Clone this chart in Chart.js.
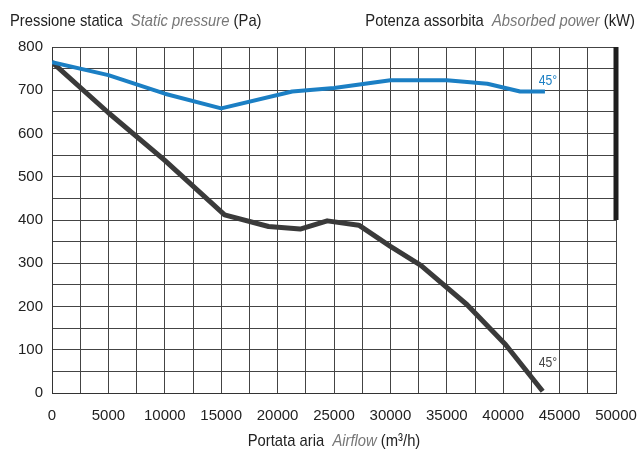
<!DOCTYPE html>
<html>
<head>
<meta charset="utf-8">
<script src="https://cdn.jsdelivr.net/npm/chart.js@4.4.1/dist/chart.umd.min.js"></script>
<style>
  html, body { margin: 0; padding: 0; background: #fff; }
  #wrap { width: 637px; height: 450px; }
</style>
</head>
<body>
<div id="wrap"><canvas id="chart" width="637" height="450"></canvas></div>
<script>
// Airflow (m3/h) vs static pressure (Pa)
const pressureX = [0, 5000, 10000, 15300, 19200, 22000, 24400, 27200, 30000, 32700, 36800, 40200, 43500];
const pressureY = [765, 648, 538, 412, 385, 379, 398, 388, 339, 295, 204, 112, 4];

// absorbed power curve, drawn on the same grid
const powerX = [0, 5000, 10000, 15000, 21300, 25000, 30000, 35000, 38600, 41500, 43700];
const powerY = [765, 735, 692, 658, 697, 705, 723, 723, 715, 697, 697];

// thick black bar on the right border (power axis)
const barX = [50000, 50000];
const barY = [400, 800];

const curveLabels = [
  { text: "45°", x: 43150, y: 721, color: "#1b7fc4" },
  { text: "45°", x: 43150, y: 70, color: "#444" },
];

const FONT = '"Liberation Sans", Arial, sans-serif';
const BLUE = "#1b7fc4";
const DARK = "#3a3a3a";
const SQUEEZE = 0.87; // reference type is a narrow face

function pts(xs, ys) {
  return xs.map((x, i) => ({ x: x, y: ys[i] }));
}

// draw a run of text pieces with mixed styles, horizontally condensed
function drawRun(ctx, pieces, x, y, align) {
  let total = 0;
  pieces.forEach((p) => {
    ctx.font = p.font;
    p.w = ctx.measureText(p.t).width * SQUEEZE;
    total += p.w;
  });
  let cx = x;
  if (align === "right") cx = x - total;
  if (align === "center") cx = x - total / 2;
  pieces.forEach((p) => {
    ctx.save();
    ctx.font = p.font;
    ctx.fillStyle = p.color;
    ctx.translate(cx, y);
    ctx.scale(SQUEEZE, 1);
    ctx.fillText(p.t, 0, 0);
    ctx.restore();
    cx += p.w;
  });
}

const textPlugin = {
  id: "texts",
  afterDraw(chart) {
    const ctx = chart.ctx;
    const xs = chart.scales.x;
    const ys = chart.scales.y;
    ctx.save();
    ctx.textBaseline = "alphabetic";
    const n = "17px " + FONT;
    const it = "italic 17px " + FONT;
    drawRun(ctx, [
      { t: "Pressione statica  ", font: n, color: "#222" },
      { t: "Static pressure", font: it, color: "#777" },
      { t: " (Pa)", font: n, color: "#222" },
    ], 10, 26, "left");
    drawRun(ctx, [
      { t: "Potenza assorbita  ", font: n, color: "#222" },
      { t: "Absorbed power", font: it, color: "#777" },
      { t: " (kW)", font: n, color: "#222" },
    ], 635, 26, "right");
    drawRun(ctx, [
      { t: "Portata aria  ", font: n, color: "#222" },
      { t: "Airflow", font: it, color: "#777" },
      { t: " (m³/h)", font: n, color: "#222" },
    ], (chart.chartArea.left + chart.chartArea.right) / 2, 446, "center");

    ctx.textBaseline = "middle";
    curveLabels.forEach((l) => {
      drawRun(ctx, [{ t: l.text, font: "14px " + FONT, color: l.color }],
        xs.getPixelForValue(l.x), ys.getPixelForValue(l.y), "left");
    });
    ctx.restore();
  },
};

new Chart(document.getElementById("chart"), {
  type: "line",
  data: {
    datasets: [
      {
        data: pts(barX, barY),
        borderColor: "#1e1e1e",
        borderWidth: 5,
        borderCapStyle: "butt",
        pointRadius: 0,
        clip: false,
      },
      {
        data: pts(powerX, powerY),
        borderColor: BLUE,
        borderWidth: 4,
        borderJoinStyle: "round",
        pointRadius: 0,
        tension: 0,
      },
      {
        data: pts(pressureX, pressureY),
        borderColor: DARK,
        borderWidth: 5,
        borderJoinStyle: "round",
        borderCapStyle: "butt",
        pointRadius: 0,
        tension: 0,
      },
    ],
  },
  options: {
    responsive: false,
    animation: false,
    layout: { padding: { top: 47, right: 21, left: 0, bottom: 0 } },
    plugins: { legend: { display: false }, tooltip: { enabled: false } },
    scales: {
      x: {
        type: "linear",
        min: 0,
        max: 50000,
        afterFit: (s) => {
          s.height = 57;
          s.paddingLeft = 0;
          s.paddingRight = 0;
        },
        ticks: {
          stepSize: 2500,
          autoSkip: false,
          maxRotation: 0,
          padding: 14,
          color: "#222",
          font: { family: FONT, size: 15 },
          callback: (v) => (v % 5000 === 0 ? String(v) : ""),
        },
        grid: { color: "#444", lineWidth: 1, drawTicks: false },
        border: { color: "#333", width: 1 },
      },
      y: {
        min: 0,
        max: 800,
        afterFit: (s) => {
          s.width = 52;
          s.paddingTop = 0;
          s.paddingBottom = 0;
        },
        ticks: {
          stepSize: 50,
          autoSkip: false,
          padding: 9,
          color: "#222",
          font: { family: FONT, size: 15 },
          callback: (v) => (v % 100 === 0 ? String(v) : ""),
        },
        grid: { color: "#444", lineWidth: 1, drawTicks: false },
        border: { color: "#333", width: 1 },
      },
    },
  },
  plugins: [textPlugin],
});
</script>
</body>
</html>
